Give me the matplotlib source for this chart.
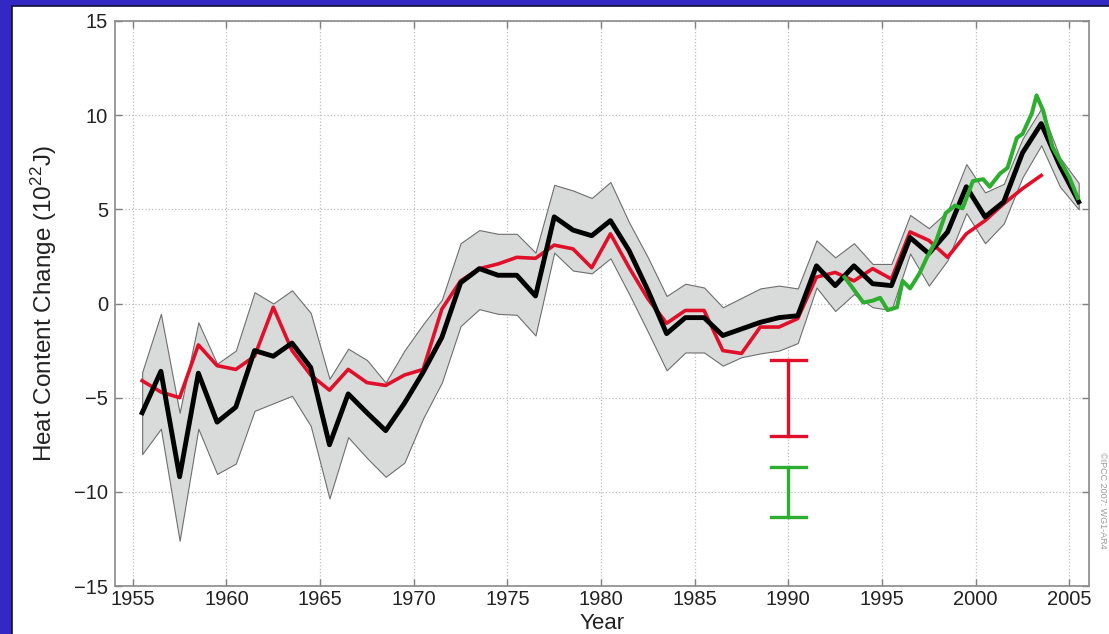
import numpy as np
import matplotlib
matplotlib.use("Agg")
import matplotlib.pyplot as plt
from matplotlib.patches import Rectangle

plt.rcParams['font.family'] = ['Liberation Sans', 'DejaVu Sans']
plt.rcParams['mathtext.fontset'] = 'custom'
plt.rcParams['mathtext.rm'] = 'Liberation Sans'
plt.rcParams['mathtext.it'] = 'Liberation Sans'

# annual values, centred on mid-year
years = np.arange(1955.5, 2006.0, 1.0)
black_vals = [-5.8, -3.6, -9.2, -3.7, -6.3, -5.5, -2.5, -2.8, -2.1, -3.4,
              -7.5, -4.8, -5.8, -6.75, -5.3, -3.65, -1.8, 1.1, 1.85, 1.5,
              1.5, 0.4, 4.6, 3.9, 3.6, 4.4, 2.8, 0.7, -1.6, -0.75,
              -0.75, -1.7, -1.35, -1.0, -0.75, -0.65, 2.0, 0.95, 2.0, 1.05,
              0.95, 3.5, 2.65, 3.8, 6.2, 4.6, 5.4, 8.0, 9.55, 7.3, 5.4]
band_upper = [-3.65, -0.55, -5.8, -1.0, -3.2, -2.5, 0.6, 0.0, 0.7, -0.5,
              -4.0, -2.4, -3.0, -4.2, -2.5, -1.1, 0.2, 3.2, 3.9, 3.7,
              3.7, 2.7, 6.3, 6.0, 5.6, 6.45, 4.3, 2.45, 0.4, 1.05,
              0.85, -0.2, 0.3, 0.8, 0.95, 0.8, 3.35, 2.45, 3.2, 2.1,
              2.1, 4.7, 4.0, 4.9, 7.4, 5.9, 6.35, 8.75, 10.35, 7.75, 6.4]
band_lower = [-8.0, -6.65, -12.6, -6.65, -9.05, -8.5, -5.7, -5.3, -4.9, -6.5,
              -10.35, -7.1, -8.2, -9.2, -8.45, -6.1, -4.2, -1.2, -0.3, -0.55,
              -0.6, -1.7, 2.7, 1.75, 1.6, 2.4, 0.5, -1.5, -3.55, -2.6,
              -2.6, -3.3, -2.85, -2.65, -2.5, -2.1, 0.85, -0.4, 0.5, -0.2,
              -0.35, 2.65, 0.95, 2.3, 4.8, 3.2, 4.25, 6.7, 8.4, 6.2, 5.0]

red_years = np.arange(1955.5, 2004.0, 1.0)
red_vals = [-4.1, -4.7, -5.0, -2.2, -3.3, -3.5, -2.8, -0.2, -2.5, -3.8,
            -4.6, -3.5, -4.2, -4.35, -3.8, -3.5, -0.3, 1.2, 1.85, 2.1,
            2.45, 2.4, 3.1, 2.9, 1.9, 3.7, 1.9, 0.25, -1.05, -0.37,
            -0.37, -2.5, -2.65, -1.25, -1.25, -0.8, 1.4, 1.65, 1.2, 1.85,
            1.3, 3.8, 3.35, 2.45, 3.7, 4.4, 5.3, 6.1, 6.8]

green_years = [1993.0, 1993.45, 1994.0, 1994.5, 1994.9, 1995.3, 1995.8, 1996.1,
               1996.5, 1997.0, 1997.4, 1997.9, 1998.4, 1998.9, 1999.3, 1999.85,
               2000.4, 2000.75, 2001.3, 2001.7, 2002.2, 2002.5, 2003.0, 2003.25,
               2003.6, 2004.1, 2004.5, 2005.0, 2005.45]
green_vals = [1.4, 0.8, 0.05, 0.15, 0.3, -0.35, -0.2, 1.2,
              0.8, 1.6, 2.45, 3.35, 4.8, 5.2, 5.05, 6.5,
              6.6, 6.2, 6.9, 7.2, 8.8, 9.0, 10.1, 11.05,
              10.25, 8.3, 7.6, 6.7, 5.6]

# uncertainty bars drawn at 1990
bar_year = 1990.0
red_bar = (-7.05, -3.0)
green_bar = (-11.35, -8.7)

RED = '#e0102a'
GREEN = '#2eae2e'
BLUE_FRAME = '#3328c4'

fig = plt.figure(figsize=(11.09, 6.34), dpi=100, facecolor=BLUE_FRAME)
# white page, blue shows only on the left and top edges
fig.patches.append(Rectangle((12 / 1109, -0.05), 1.1, 1.05 - 6 / 634,
                             transform=fig.transFigure, facecolor='white',
                             edgecolor='#111133', linewidth=1.2, zorder=-1))

ax = fig.add_axes([115 / 1109, 1 - 586 / 634, 974 / 1109, 565 / 634])
ax.set_facecolor('white')

ax.fill_between(years, band_lower, band_upper, facecolor='#d9dbdb',
                edgecolor='#6e6e6e', linewidth=0.8, zorder=2)
ax.plot(red_years, red_vals, color=RED, lw=2.6, zorder=3)
ax.plot(years, black_vals, color='black', lw=3.5, zorder=4)
ax.plot(green_years, green_vals, color=GREEN, lw=2.9, zorder=5)

# error bars
for (lo, hi), c in [(red_bar, RED), (green_bar, GREEN)]:
    ax.plot([bar_year, bar_year], [lo, hi], color=c, lw=2.4, zorder=5)
    ax.plot([bar_year - 0.95, bar_year + 0.95], [lo, lo], color=c, lw=2.4, zorder=5)
    ax.plot([bar_year - 0.95, bar_year + 0.95], [hi, hi], color=c, lw=2.4, zorder=5)

ax.set_xlim(1954.05, 2006.05)
ax.set_ylim(-15, 15)
ax.set_xticks(np.arange(1955, 2006, 5))
ax.set_yticks(np.arange(-15, 16, 5))
ax.set_yticklabels(['\u221215', '\u221210', '\u22125', '0', '5', '10', '15'])
ax.grid(True, linestyle=':', color='#bdbdbd', linewidth=0.9)
ax.set_axisbelow(True)
ax.tick_params(direction='in', length=5, width=1, color='#808080',
               top=True, right=True, labelsize=14.5, labelcolor='#222222')
ax.tick_params(axis='x', pad=3)
ax.tick_params(axis='y', pad=5)
for sp in ax.spines.values():
    sp.set_color('#8a8a8a')
    sp.set_linewidth(1.2)

ax.set_xlabel('Year', fontsize=16, color='#222222')
ax.set_ylabel('Heat Content Change (10$^{22}$J)', fontsize=17.5, color='#222222')
ax.xaxis.set_label_coords(0.5, -0.047)
ax.yaxis.set_label_coords(-0.058, 0.5)

fig.text(1103 / 1109, 1 - 500 / 634, '\u00a9IPCC 2007: WG1-AR4', rotation=270,
         fontsize=6.5, color='#9a9a9a', ha='center', va='center')

fig.savefig('out.png', dpi=100, facecolor=fig.get_facecolor())
